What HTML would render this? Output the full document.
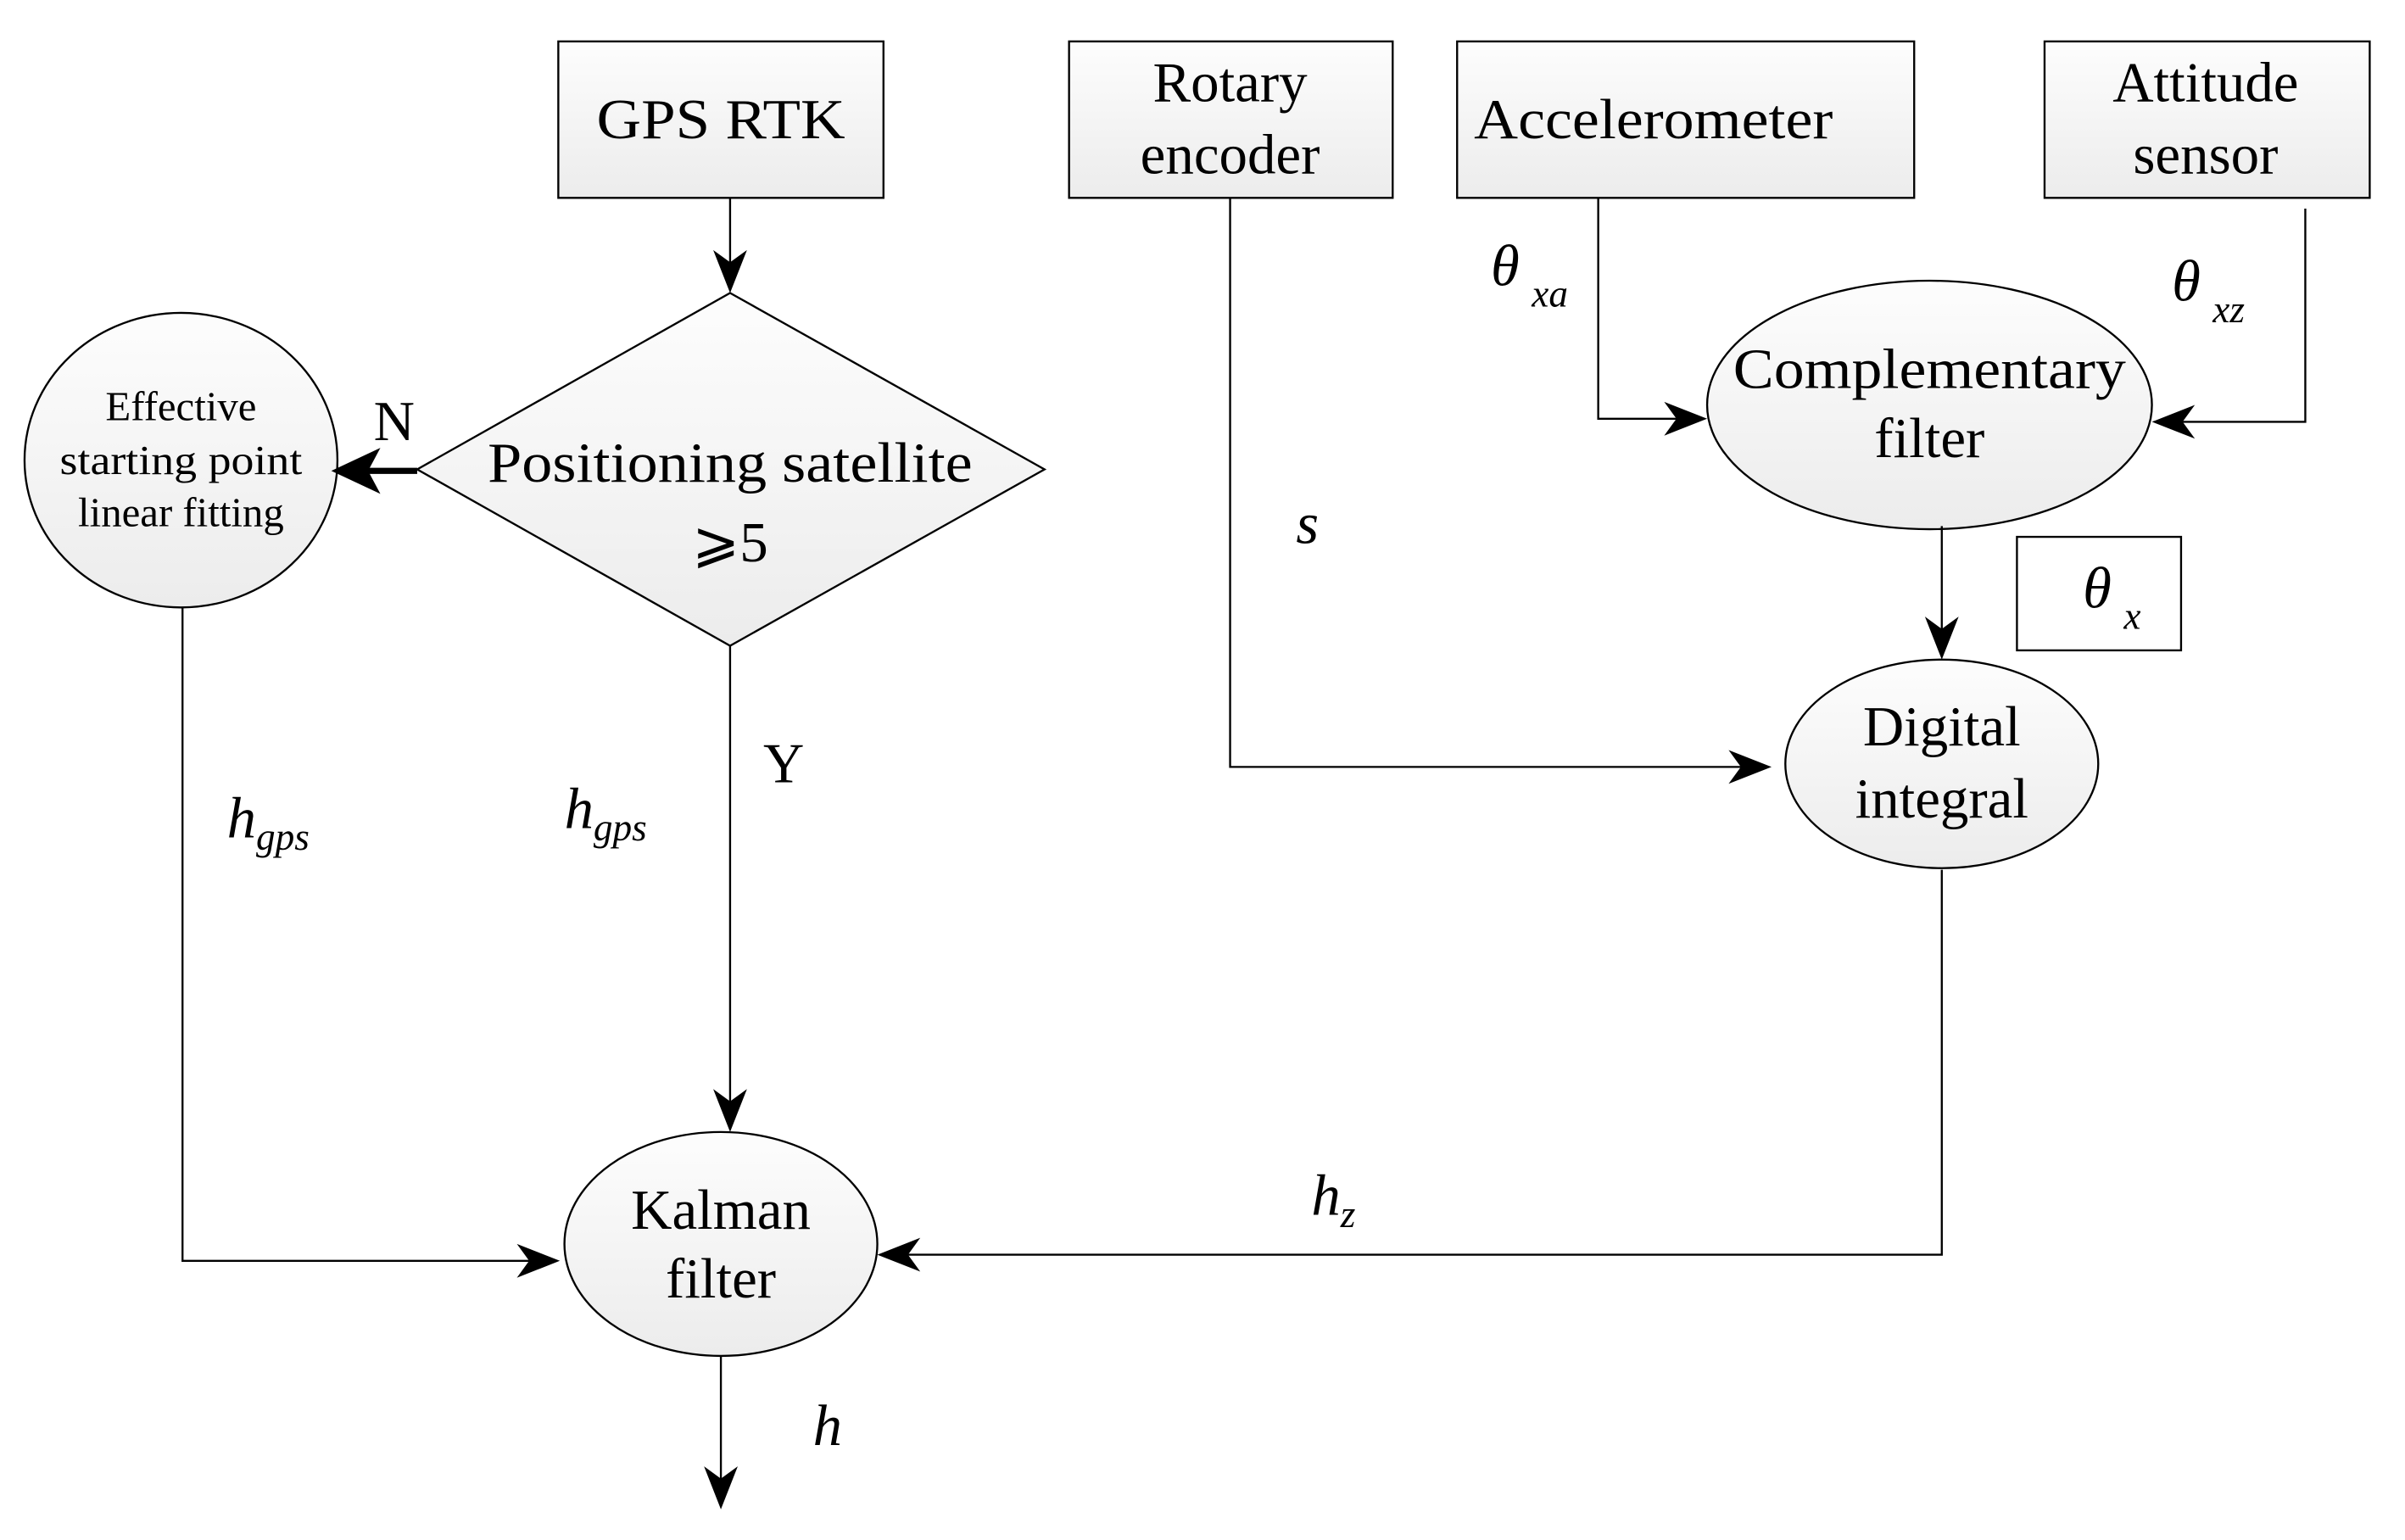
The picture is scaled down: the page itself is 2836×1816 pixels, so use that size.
<!DOCTYPE html>
<html><head><meta charset="utf-8"><style>html,body{margin:0;padding:0;background:#fff}svg{display:block}</style></head>
<body>
<svg width="2836" height="1816" viewBox="0 0 1568 1004" preserveAspectRatio="none" xmlns="http://www.w3.org/2000/svg" font-family="Liberation Serif, serif">
<defs>
<linearGradient id="g" x1="0" y1="0" x2="0" y2="1"><stop offset="0" stop-color="#fdfdfd"/><stop offset="1" stop-color="#ececec"/></linearGradient>
</defs>
<g stroke="#000" stroke-width="1.3" fill="url(#g)">
<rect x="364" y="27" width="212" height="102"/>
<rect x="697" y="27" width="211" height="102"/>
<rect x="950" y="27" width="298" height="102"/>
<rect x="1333" y="27" width="212" height="102"/>
<polygon points="476,191 681,306 476,421 272,306"/>
<ellipse cx="118" cy="300" rx="102" ry="96"/>
<ellipse cx="470" cy="811" rx="102" ry="73"/>
<ellipse cx="1258" cy="264" rx="145" ry="81"/>
<ellipse cx="1266" cy="498" rx="102" ry="68"/>
<rect x="1315" y="350" width="107" height="74" fill="#fff"/>
</g>
<g stroke="#000" stroke-width="1.3" fill="none">
<line x1="476" y1="129" x2="476" y2="175"/>
<line x1="476" y1="421" x2="476" y2="722"/>
<polyline points="119,396 119,822 350,822"/>
<polyline points="1266,567 1266,818 588,818"/>
<line x1="470" y1="884" x2="470" y2="968"/>
<polyline points="802,129 802,500 1140,500"/>
<polyline points="1042,129 1042,273 1098,273"/>
<polyline points="1503,136 1503,275 1418,275"/>
<line x1="1266" y1="343" x2="1266" y2="415"/>
<line x1="272" y1="307" x2="235" y2="307" stroke-width="4"/>
</g>
<g fill="#000">
<polygon points="476,191 465,163 476,171 487,163"/>
<polygon points="476,738 465,710 476,718 487,710"/>
<polygon points="470,984 459,956 470,964 481,956"/>
<polygon points="1266,430 1255,402 1266,410 1277,402"/>
<polygon points="365,822 337,811 345,822 337,833"/>
<polygon points="572,818 600,807 592,818 600,829"/>
<polygon points="1155,500 1127,489 1135,500 1127,511"/>
<polygon points="1113,273 1085,262 1093,273 1085,284"/>
<polygon points="1403,275 1431,264 1423,275 1431,286"/>
<polygon points="216,307 248,292 240,307 248,322"/>
</g>
<g font-size="37" text-anchor="middle" fill="#000">
<text x="470" y="90" textLength="162" lengthAdjust="spacingAndGlyphs">GPS RTK</text>
<text x="802" y="66">Rotary</text>
<text x="802" y="113">encoder</text>
<text x="1078" y="90" textLength="234" lengthAdjust="spacingAndGlyphs">Accelerometer</text>
<text x="1438" y="66">Attitude</text>
<text x="1438" y="113">sensor</text>
<text x="476" y="314" textLength="316" lengthAdjust="spacingAndGlyphs">Positioning satellite</text>
<text x="476" y="366">⩾5</text>
<text x="1258" y="253" textLength="256" lengthAdjust="spacingAndGlyphs">Complementary</text>
<text x="1258" y="298">filter</text>
<text x="1266" y="486">Digital</text>
<text x="1266" y="533">integral</text>
<text x="470" y="801">Kalman</text>
<text x="470" y="846">filter</text>
<text x="257" y="287">N</text>
<text x="511" y="510">Y</text>
</g>
<g font-size="27" text-anchor="middle" fill="#000">
<text x="118" y="274">Effective</text>
<text x="118" y="309" textLength="158" lengthAdjust="spacingAndGlyphs">starting point</text>
<text x="118" y="343">linear fitting</text>
</g>
<g font-style="italic" fill="#000" font-size="38">
<text x="148" y="546">h<tspan font-size="25" dy="8">gps</tspan></text>
<text x="368" y="540">h<tspan font-size="25" dy="8">gps</tspan></text>
<text x="855" y="792">h<tspan font-size="25" dy="8">z</tspan></text>
<text x="530" y="942">h</text>
<text x="845" y="354">s</text>
<text x="972" y="186">θ<tspan font-size="25" dx="8" dy="14">xa</tspan></text>
<text x="1416" y="196">θ<tspan font-size="25" dx="8" dy="14">xz</tspan></text>
<text x="1358" y="396">θ<tspan font-size="25" dx="8" dy="14">x</tspan></text>
</g>
</svg>
</body></html>
